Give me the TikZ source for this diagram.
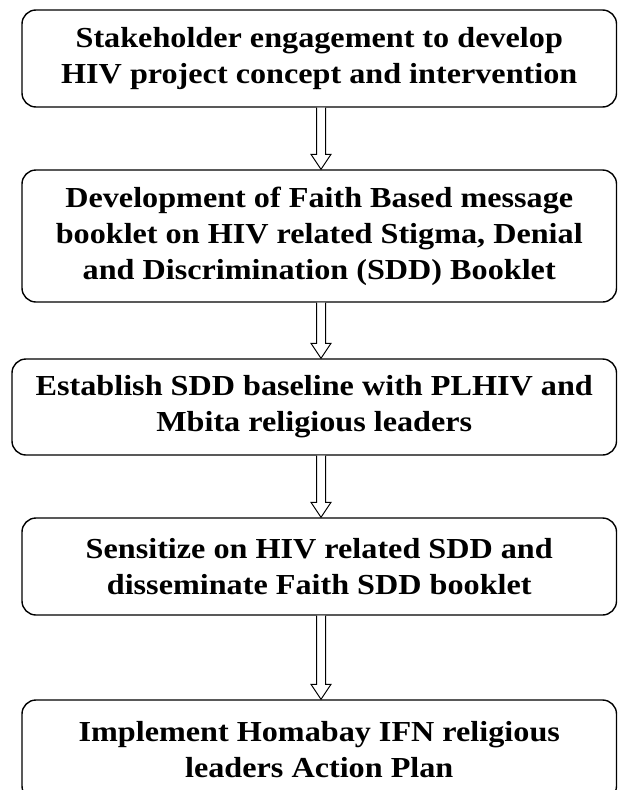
\documentclass[tikz,border=0pt]{standalone}
\usepackage{fontspec}
\setmainfont{Liberation Serif}[FakeStretch=1.11]
\usetikzlibrary{calc}
\newcommand\hollowarrow[2]{%
  \draw[harrow] let \p1=(#1.south -| axis), \p2=(#2.north -| axis) in
    (\x1-4.5pt,\y1) -- (\x1-4.5pt,\y2+15pt) -- (\x1-10pt,\y2+15pt) -- (\x1,\y2)
    -- (\x1+10pt,\y2+15pt) -- (\x1+4.5pt,\y2+15pt) -- (\x1+4.5pt,\y1);}
\begin{document}
\begin{tikzpicture}[x=1pt,y=-1pt,
  box/.style={draw, line width=1.4pt, rounded corners=14pt, align=center,
    font=\fontsize{29}{36}\selectfont\bfseries, inner sep=0pt},
  harrow/.style={line width=1pt, draw, fill=white}]
\useasboundingbox (0,0) rectangle (618,790);
\clip (0,0) rectangle (618,790);
\coordinate (axis) at (321,0);
\node[box, minimum width=594.5pt, minimum height=97pt] (b1) at (319.25,58.5)
  {Stakeholder engagement to develop\\HIV project concept and intervention};
\node[box, minimum width=594.5pt, minimum height=132pt] (b2) at (319.25,236)
  {Development of Faith Based message\\booklet on HIV related Stigma, Denial\\and Discrimination (SDD) Booklet};
\node[box, minimum width=604.5pt, minimum height=96pt] (b3) at (314.25,407)
  {Establish SDD baseline with PLHIV and\\Mbita religious leaders};
\node[box, minimum width=594.5pt, minimum height=97pt] (b4) at (319.25,566.5)
  {Sensitize on HIV related SDD and\\disseminate Faith SDD booklet};
\node[box, minimum width=594.5pt, minimum height=100pt] (b5) at (319.25,750)
  {Implement Homabay IFN religious\\leaders Action Plan};
\hollowarrow{b1}{b2}
\hollowarrow{b2}{b3}
\hollowarrow{b3}{b4}
\hollowarrow{b4}{b5}
\end{tikzpicture}
\end{document}
